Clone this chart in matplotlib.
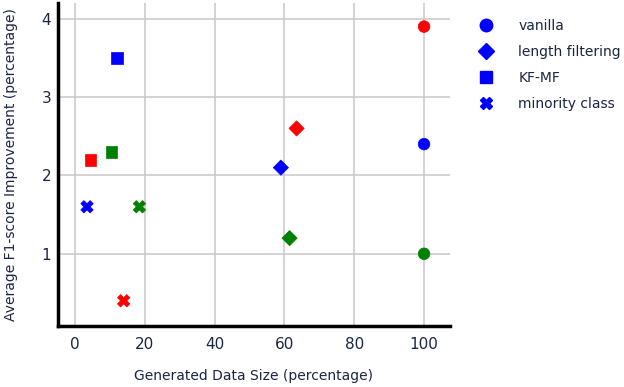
import matplotlib
matplotlib.use("Agg")
import matplotlib.pyplot as plt
from matplotlib.lines import Line2D

methods = ["vanilla", "length filtering", "KF-MF", "minority class"]
markers = ["o", "D", "s", "X"]
colors = ["red", "blue", "green"]

# per method, values for red, blue, green series
x_vals = {
    "vanilla": [100, 100, 100],
    "length filtering": [63.5, 59, 61.5],
    "KF-MF": [4.5, 12, 10.5],
    "minority class": [14, 3.5, 18.5],
}
y_vals = {
    "vanilla": [3.9, 2.4, 1.0],
    "length filtering": [2.6, 2.1, 1.2],
    "KF-MF": [2.2, 3.5, 2.3],
    "minority class": [0.4, 1.6, 1.6],
}
xticks = [0, 20, 40, 60, 80, 100]
yticks = [1, 2, 3, 4]

text_color = "#1c2541"
fig = plt.figure(figsize=(6.24, 3.87), dpi=100)
ax = fig.add_axes([0.093, 0.158, 0.628, 0.834])

sizes = {"o": 70, "D": 60, "s": 70, "X": 80}
for m, mk in zip(methods, markers):
    ax.scatter(x_vals[m], y_vals[m], c=colors, marker=mk, s=sizes[mk],
               edgecolors=colors, linewidths=0.5, zorder=3)

ax.set_xlim(-4.8, 107.4)
ax.set_ylim(0.08, 4.2)
ax.set_xticks(xticks)
ax.set_yticks(yticks)
ax.grid(True, color="#c8c8c8", linewidth=1.1, zorder=0)
ax.set_axisbelow(True)
for s in ["top", "right"]:
    ax.spines[s].set_visible(False)
for s in ["left", "bottom"]:
    ax.spines[s].set_linewidth(2.5)
    ax.spines[s].set_color("black")
ax.tick_params(axis="both", labelsize=11, colors=text_color, length=0)
ax.tick_params(axis="x", pad=8)
ax.tick_params(axis="y", pad=5)
ax.set_xlabel("Generated Data Size (percentage)", fontsize=10, color=text_color, labelpad=12)
ax.set_ylabel("Average F1-score Improvement (percentage)", fontsize=10, color=text_color, labelpad=17)

handles = [Line2D([], [], linestyle="none", marker=mk, color="blue",
                  markersize=9 if mk != "D" else 8) for mk in markers]
leg = fig.legend(handles, methods, loc="upper left", bbox_to_anchor=(0.748, 0.965),
                 frameon=False, fontsize=10, labelspacing=0.85, handletextpad=1.3,
                 borderaxespad=0)
for t in leg.get_texts():
    t.set_color(text_color)

fig.savefig("out.png", dpi=100)
